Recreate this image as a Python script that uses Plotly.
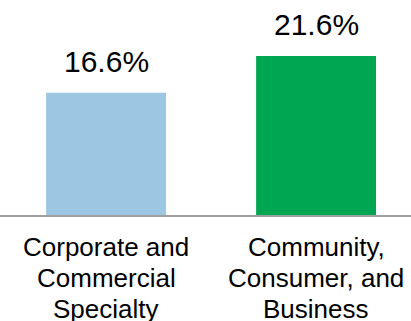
import plotly.graph_objects as go

category_lines = [
    ["Corporate and", "Commercial", "Specialty"],
    ["Community,", "Consumer, and", "Business"],
]
values = [16.6, 21.6]
value_labels = ["16.6%", "21.6%"]
colors = ["#9DC6E2", "#00A651"]

FONT = "Liberation Sans, Arial"
fig = go.Figure(go.Bar(
    x=[0, 1], y=values, width=0.571,
    marker=dict(color=colors, line=dict(width=0)),
    hoverinfo="skip",
))

annotations = []
for i, (v, lab) in enumerate(zip(values, value_labels)):
    annotations.append(dict(
        x=i, y=v, xref="x", yref="y", text=lab, showarrow=False,
        xanchor="center", yanchor="bottom", yshift=13,
        font=dict(size=30, color="#000000", family=FONT),
    ))
for i, lines in enumerate(category_lines):
    for j, line in enumerate(lines):
        annotations.append(dict(
            x=i, y=0, xref="x", yref="paper", text=line, showarrow=False,
            xanchor="center", yanchor="middle", yshift=-(32 + 31 * j),
            font=dict(size=26, color="#000000", family=FONT),
        ))

fig.update_layout(
    width=411, height=321,
    margin=dict(l=0, r=0, t=0, b=106, autoexpand=False),
    paper_bgcolor="white", plot_bgcolor="white",
    showlegend=False,
    hovermode=False,
    font=dict(family=FONT, color="#000000"),
    annotations=annotations,
    xaxis=dict(range=[-0.505, 1.452], showticklabels=False,
               showline=True, linecolor="#A0A0A0", linewidth=2, showgrid=False,
               zeroline=False, ticks="", fixedrange=True),
    yaxis=dict(range=[0, 29.2], visible=False, showgrid=False, zeroline=False,
               fixedrange=True),
)
fig.write_html("out.html", config={"displayModeBar": False},
               post_script="document.body.style.margin='0';document.body.style.padding='0';")
